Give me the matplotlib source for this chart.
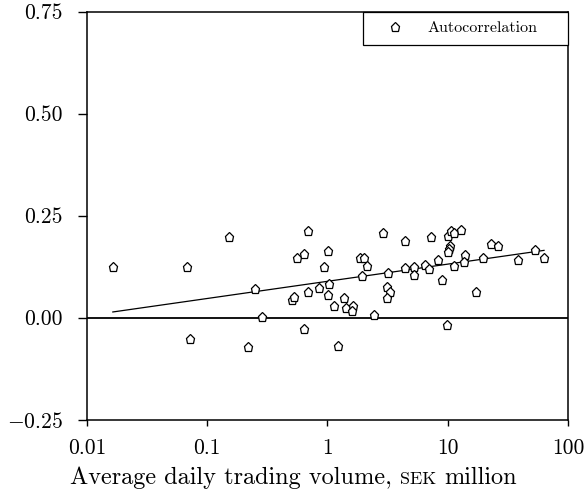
import numpy as np
import matplotlib
matplotlib.use('Agg')
import matplotlib.pyplot as plt
from matplotlib.offsetbox import TextArea, HPacker, AnchoredOffsetbox

plt.rcParams['font.family'] = ['cmr10', 'DejaVu Serif']
plt.rcParams['mathtext.fontset'] = 'cm'
plt.rcParams['axes.formatter.use_mathtext'] = True

## Volume (SEK million) and first order autocorrelation per stock
volume = [0.0164, 0.0675, 0.0719, 0.1526, 0.249, 0.284, 0.2195, 0.510, 0.530, 0.5545,
          0.638, 0.684, 0.684, 0.638, 0.845, 0.930, 1.01, 1.035, 1.016, 1.139,
          1.229, 1.379, 1.433, 1.62, 1.608, 1.864, 2.0, 2.143, 1.936, 2.436,
          2.877, 3.107, 3.33, 3.143, 3.204, 4.385, 4.385, 5.24, 5.24, 6.47,
          7.03, 7.26, 8.25, 8.91, 9.80, 9.99, 10.64, 11.34, 12.96, 10.44,
          10.18, 9.99, 11.21, 14.0, 13.57, 17.28, 19.64, 22.9, 26.0, 38.4,
          52.8, 63.2]
autocorr = [0.125, 0.125, -0.052, 0.199, 0.071, 0.002, -0.071, 0.043, 0.050, 0.146,
            0.156, 0.213, 0.064, -0.028, 0.073, 0.124, 0.164, 0.083, 0.056, 0.028,
            -0.069, 0.048, 0.023, 0.029, 0.016, 0.146, 0.146, 0.127, 0.102, 0.007,
            0.208, 0.076, 0.062, 0.049, 0.109, 0.189, 0.122, 0.124, 0.105, 0.129,
            0.119, 0.197, 0.141, 0.092, -0.019, 0.201, 0.213, 0.207, 0.214, 0.176,
            0.168, 0.160, 0.127, 0.154, 0.137, 0.062, 0.146, 0.181, 0.176, 0.142,
            0.165, 0.146]

## fitted line: autocorr = intercept + slope*log10(volume)
intercept = 0.0892
slope = 0.0421

xticks = [0.01, 0.1, 1, 10, 100]
xticklabels = ['0.01', '0.1', '1', '10', '100']
yticks = [-0.25, 0.0, 0.25, 0.50, 0.75]
yticklabels = ['$-$0.25', '0.00', '0.25', '0.50', '0.75']

fig = plt.figure(figsize=(5.87, 4.95), dpi=100)
ax = fig.add_axes([0.1482, 0.1521, 0.8194, 0.8243])

ax.axhline(0, color='black', lw=1.3, zorder=1)

xs = np.logspace(np.log10(min(volume)), np.log10(max(volume)), 50)
ax.plot(xs, intercept + slope*np.log10(xs), color='black', lw=0.9, zorder=2)

pts, = ax.plot(volume, autocorr, linestyle='none', marker='p', markersize=6.5,
               markerfacecolor='white', markeredgecolor='black', markeredgewidth=0.9,
               zorder=3, label='Autocorrelation')

ax.set_xscale('log')
ax.set_xlim(0.01, 100)
ax.set_ylim(-0.25, 0.75)
ax.set_xticks(xticks)
ax.set_xticklabels(xticklabels, fontsize=15.5)
ax.set_yticks(yticks)
ax.set_yticklabels(yticklabels, fontsize=15.5)
ax.minorticks_off()
ax.tick_params(axis='y', direction='out', length=6.3, width=1, pad=11)
ax.tick_params(axis='x', direction='out', length=4.3, width=1, pad=9)
for s in ax.spines.values():
    s.set_linewidth(1.1)

leg = ax.legend(handles=[pts], loc='upper right', bbox_to_anchor=(0.574, 0.918, 0.426, 0.082),
                mode='expand', borderaxespad=0, fancybox=False, framealpha=1,
                edgecolor='black', fontsize=11.5, handlelength=2.8, handletextpad=0.66,
                borderpad=0.6, markerscale=1.0)
leg.get_frame().set_linewidth(0.9)

## x label with small caps SEK
parts = [TextArea('Average daily trading volume,', textprops=dict(fontsize=17.5)),
         TextArea('SEK', textprops=dict(fontsize=13)),
         TextArea('million', textprops=dict(fontsize=17.5))]
box = HPacker(children=parts, align='baseline', pad=0, sep=6)
anc = AnchoredOffsetbox(loc='center', child=box, frameon=False, pad=0, borderpad=0,
                        bbox_to_anchor=(0.5, 0.035), bbox_transform=fig.transFigure)
fig.add_artist(anc)

fig.savefig('out.png', dpi=100)
